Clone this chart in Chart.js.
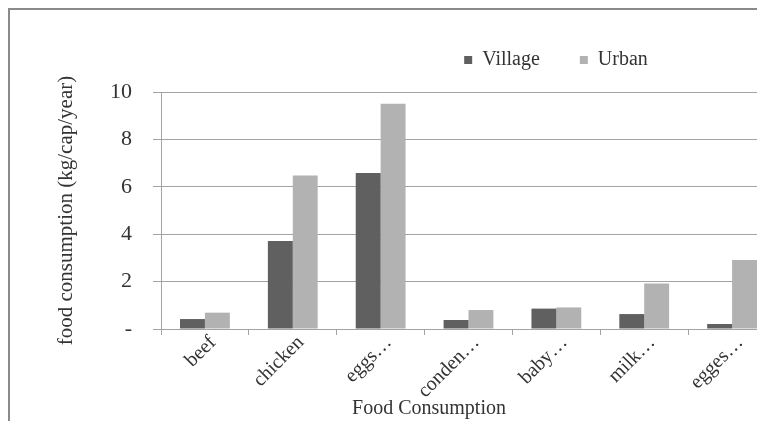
<!DOCTYPE html>
<html>
<head>
<meta charset="utf-8">
<title>Food Consumption</title>
<script src="https://cdn.jsdelivr.net/npm/chart.js@4.4.0/dist/chart.umd.min.js"></script>
<style>
    html, body { margin: 0; padding: 0; background: #fff; overflow: hidden; }
    .chart-frame { position: absolute; left: 8px; top: 8px; width: 800px; height: 440px; border: 2px solid #8a8a8a; }
    #bar-chart { display: block; }
</style>
</head>
<body>
<div class="chart-frame"><canvas id="bar-chart" width="770" height="421"></canvas></div>
<script>
    // Data
    var categories = ["beef", "chicken", "eggs\u2026", "conden\u2026", "baby\u2026", "milk\u2026", "egges\u2026"];
    var village = [0.42, 3.71, 6.58, 0.38, 0.86, 0.63, 0.21];
    var urban = [0.69, 6.48, 9.5, 0.80, 0.91, 1.92, 2.91];
    var yTickLabels = ["-", "2", "4", "6", "8", "10"];

    var gridColor = "#a3a3a3";
    var textColor = "#333";

    Chart.defaults.font.family = "'Liberation Serif', 'Times New Roman', serif";
    Chart.defaults.color = textColor;

    // Legend and bottom title sit off-centre in the original, move their boxes
    var shiftBlocks = {
        id: "shiftBlocks",
        afterLayout: function (chart) {
            var moves = [[chart.legend, 546, -12], [chart.titleBlock, 419, 0]];
            moves.forEach(function (m) {
                var box = m[0];
                if (!box) return;
                var dx = m[1] - (box.left + box.right) / 2;
                box.left += dx;
                box.right += dx;
                box.top += m[2];
                box.bottom += m[2];
            });
        }
    };

    // Bar Chart
    var ctx = document.getElementById("bar-chart").getContext("2d");
    var myChart = new Chart(ctx, {
        type: "bar",
        data: {
            labels: categories,
            datasets: [{
                label: "Village",
                data: village,
                backgroundColor: "#606060"
            }, {
                label: "Urban",
                data: urban,
                backgroundColor: "#b2b2b2"
            }]
        },
        options: {
            responsive: false,
            animation: false,
            layout: {
                padding: { left: 0, right: 4, top: 12, bottom: 0 }
            },
            datasets: {
                bar: {
                    barPercentage: 1,
                    categoryPercentage: 0.567
                }
            },
            plugins: {
                tooltip: { enabled: false },
                legend: {
                    position: "top",
                    labels: {
                        boxWidth: 8,
                        boxHeight: 8,
                        padding: 40,
                        font: { size: 20 }
                    }
                },
                title: {
                    display: true,
                    position: "bottom",
                    text: "Food Consumption",
                    font: { size: 20, weight: "normal" },
                    padding: { top: 0, bottom: 10 }
                }
            },
            scales: {
                x: {
                    grid: {
                        drawOnChartArea: false,
                        color: gridColor,
                        tickLength: 6
                    },
                    border: { color: gridColor },
                    ticks: {
                        autoSkip: false,
                        maxRotation: 45,
                        minRotation: 45,
                        padding: -4,
                        labelOffset: 8,
                        font: { size: 20 }
                    },
                    afterFit: function (scale) { scale.height = 68; }
                },
                y: {
                    min: 0,
                    max: 10,
                    grid: {
                        color: gridColor,
                        tickLength: 8
                    },
                    border: { color: gridColor },
                    ticks: {
                        stepSize: 2,
                        padding: 21,
                        font: { size: 22 },
                        callback: function (value, index) { return yTickLabels[index]; }
                    },
                    title: {
                        display: true,
                        text: "food consumption (kg/cap/year)",
                        font: { size: 21 },
                        padding: { top: 44, bottom: 0 }
                    },
                    afterFit: function (scale) { scale.width = 151; }
                }
            }
        },
        plugins: [shiftBlocks]
    });
</script>
</body>
</html>
